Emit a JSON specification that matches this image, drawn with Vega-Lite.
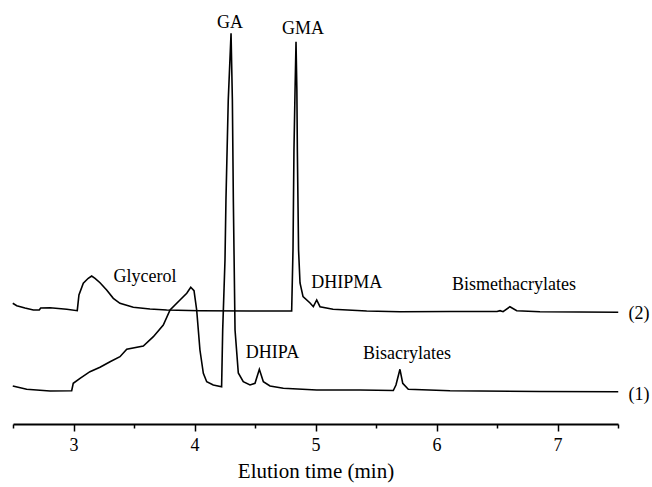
{
  "$schema": "https://vega.github.io/schema/vega-lite/v6.json",
  "width": 605,
  "height": 400,
  "autosize": "none",
  "padding": {"left": 13, "right": 34, "top": 24, "bottom": 63},
  "background": "white",
  "config": {
    "view": {"stroke": null},
    "font": "Liberation Serif",
    "text": {"font": "Liberation Serif"},
    "axis": {"labelFont": "Liberation Serif", "titleFont": "Liberation Serif"}
  },
  "datasets": {
    "traces": [
      {"trace": "2", "t": 2.498, "v": 120.7},
      {"trace": "2", "t": 2.531, "v": 118.3},
      {"trace": "2", "t": 2.599, "v": 116},
      {"trace": "2", "t": 2.668, "v": 114},
      {"trace": "2", "t": 2.717, "v": 114},
      {"trace": "2", "t": 2.729, "v": 116},
      {"trace": "2", "t": 2.806, "v": 116.3},
      {"trace": "2", "t": 2.944, "v": 114.7},
      {"trace": "2", "t": 3.031, "v": 113.3},
      {"trace": "2", "t": 3.045, "v": 129},
      {"trace": "2", "t": 3.081, "v": 140.7},
      {"trace": "2", "t": 3.122, "v": 145.7},
      {"trace": "2", "t": 3.150, "v": 148},
      {"trace": "2", "t": 3.178, "v": 145.7},
      {"trace": "2", "t": 3.219, "v": 141.3},
      {"trace": "2", "t": 3.274, "v": 134},
      {"trace": "2", "t": 3.329, "v": 125.7},
      {"trace": "2", "t": 3.384, "v": 120.7},
      {"trace": "2", "t": 3.494, "v": 116.7},
      {"trace": "2", "t": 3.632, "v": 115},
      {"trace": "2", "t": 3.770, "v": 114},
      {"trace": "2", "t": 4.045, "v": 113.3},
      {"trace": "2", "t": 4.459, "v": 113},
      {"trace": "2", "t": 4.803, "v": 113},
      {"trace": "2", "t": 4.814, "v": 174},
      {"trace": "2", "t": 4.822, "v": 274},
      {"trace": "2", "t": 4.831, "v": 334},
      {"trace": "2", "t": 4.839, "v": 382.3},
      {"trace": "2", "t": 4.846, "v": 334},
      {"trace": "2", "t": 4.850, "v": 274},
      {"trace": "2", "t": 4.860, "v": 174},
      {"trace": "2", "t": 4.872, "v": 141},
      {"trace": "2", "t": 4.897, "v": 127.3},
      {"trace": "2", "t": 4.955, "v": 121},
      {"trace": "2", "t": 4.982, "v": 117.3},
      {"trace": "2", "t": 5.010, "v": 124},
      {"trace": "2", "t": 5.037, "v": 117.3},
      {"trace": "2", "t": 5.145, "v": 114.7},
      {"trace": "2", "t": 5.423, "v": 113},
      {"trace": "2", "t": 5.698, "v": 112.3},
      {"trace": "2", "t": 6.112, "v": 112.5},
      {"trace": "2", "t": 6.500, "v": 112.5},
      {"trace": "2", "t": 6.525, "v": 113.3},
      {"trace": "2", "t": 6.550, "v": 112.3},
      {"trace": "2", "t": 6.607, "v": 117.3},
      {"trace": "2", "t": 6.663, "v": 113.3},
      {"trace": "2", "t": 6.855, "v": 112.3},
      {"trace": "2", "t": 7.502, "v": 111.7},
      {"trace": "1", "t": 2.498, "v": 38},
      {"trace": "1", "t": 2.613, "v": 34.7},
      {"trace": "1", "t": 2.806, "v": 33},
      {"trace": "1", "t": 2.985, "v": 33.3},
      {"trace": "1", "t": 2.998, "v": 40.7},
      {"trace": "1", "t": 3.054, "v": 45.7},
      {"trace": "1", "t": 3.136, "v": 52.3},
      {"trace": "1", "t": 3.219, "v": 56.7},
      {"trace": "1", "t": 3.302, "v": 62.3},
      {"trace": "1", "t": 3.384, "v": 67.3},
      {"trace": "1", "t": 3.440, "v": 74.7},
      {"trace": "1", "t": 3.577, "v": 78},
      {"trace": "1", "t": 3.660, "v": 87.3},
      {"trace": "1", "t": 3.742, "v": 99},
      {"trace": "1", "t": 3.798, "v": 114},
      {"trace": "1", "t": 3.880, "v": 124},
      {"trace": "1", "t": 3.936, "v": 130.7},
      {"trace": "1", "t": 3.969, "v": 136.7},
      {"trace": "1", "t": 3.996, "v": 133.3},
      {"trace": "1", "t": 4.018, "v": 114},
      {"trace": "1", "t": 4.045, "v": 74},
      {"trace": "1", "t": 4.073, "v": 50.7},
      {"trace": "1", "t": 4.101, "v": 42.3},
      {"trace": "1", "t": 4.155, "v": 39},
      {"trace": "1", "t": 4.224, "v": 37.3},
      {"trace": "1", "t": 4.233, "v": 94},
      {"trace": "1", "t": 4.252, "v": 164},
      {"trace": "1", "t": 4.260, "v": 224},
      {"trace": "1", "t": 4.279, "v": 324},
      {"trace": "1", "t": 4.302, "v": 390.7},
      {"trace": "1", "t": 4.313, "v": 324},
      {"trace": "1", "t": 4.321, "v": 224},
      {"trace": "1", "t": 4.335, "v": 94},
      {"trace": "1", "t": 4.362, "v": 51},
      {"trace": "1", "t": 4.403, "v": 42.3},
      {"trace": "1", "t": 4.459, "v": 39},
      {"trace": "1", "t": 4.500, "v": 40.7},
      {"trace": "1", "t": 4.536, "v": 54.7},
      {"trace": "1", "t": 4.569, "v": 42.3},
      {"trace": "1", "t": 4.624, "v": 38},
      {"trace": "1", "t": 4.734, "v": 35.7},
      {"trace": "1", "t": 5.010, "v": 34},
      {"trace": "1", "t": 5.368, "v": 34},
      {"trace": "1", "t": 5.643, "v": 33.5},
      {"trace": "1", "t": 5.665, "v": 39},
      {"trace": "1", "t": 5.698, "v": 54.7},
      {"trace": "1", "t": 5.721, "v": 40.7},
      {"trace": "1", "t": 5.767, "v": 34.7},
      {"trace": "1", "t": 6.112, "v": 33.3},
      {"trace": "1", "t": 6.855, "v": 32.5},
      {"trace": "1", "t": 7.502, "v": 32.3}
    ],
    "labels": [
      {"t": 4.293, "v": 401, "text": "GA"},
      {"t": 4.897, "v": 395, "text": "GMA"},
      {"t": 3.591, "v": 147, "text": "Glycerol"},
      {"t": 5.258, "v": 141, "text": "DHIPMA"},
      {"t": 4.645, "v": 71, "text": "DHIPA"},
      {"t": 6.640, "v": 139, "text": "Bismethacrylates"},
      {"t": 5.756, "v": 70, "text": "Bisacrylates"},
      {"t": 7.674, "v": 110, "text": "(2)"},
      {"t": 7.674, "v": 29, "text": "(1)"}
    ]
  },
  "layer": [
    {
      "data": {"name": "traces"},
      "mark": {"type": "line", "color": "black", "strokeWidth": 1.6, "interpolate": "linear"},
      "encoding": {
        "x": {
          "field": "t",
          "type": "quantitative",
          "scale": {"domain": [2.5, 7.5], "nice": false, "zero": false},
          "axis": {
            "title": "Elution time (min)",
            "values": [2.5, 3, 3.5, 4, 4.5, 5, 5.5, 6, 6.5, 7, 7.5],
            "labelExpr": "datum.value % 1 === 0 ? format(datum.value, 'd') : ''",
            "grid": false,
            "domainColor": "black",
            "domainWidth": 2,
            "tickColor": "black",
            "tickWidth": 1.5,
            "tickSize": {"condition": {"test": "datum.value % 1 === 0", "value": 7}, "value": 4},
            "labelFont": "Liberation Serif",
            "labelFontSize": 18,
            "labelColor": "black",
            "labelPadding": 5,
            "labelFlush": false,
            "labelOverlap": false,
            "titleFont": "Liberation Serif",
            "titleFontSize": 21,
            "titleFontWeight": "normal",
            "titleColor": "black",
            "titlePadding": 6
          }
        },
        "y": {
          "field": "v",
          "type": "quantitative",
          "scale": {"domain": [0, 400], "nice": false, "zero": false},
          "axis": null
        },
        "detail": {"field": "trace"}
      }
    },
    {
      "data": {"name": "labels"},
      "mark": {"type": "text", "font": "Liberation Serif", "fontSize": 18, "color": "black", "align": "center", "baseline": "middle"},
      "encoding": {
        "x": {"field": "t", "type": "quantitative"},
        "y": {"field": "v", "type": "quantitative"},
        "text": {"field": "text"}
      }
    }
  ]
}
